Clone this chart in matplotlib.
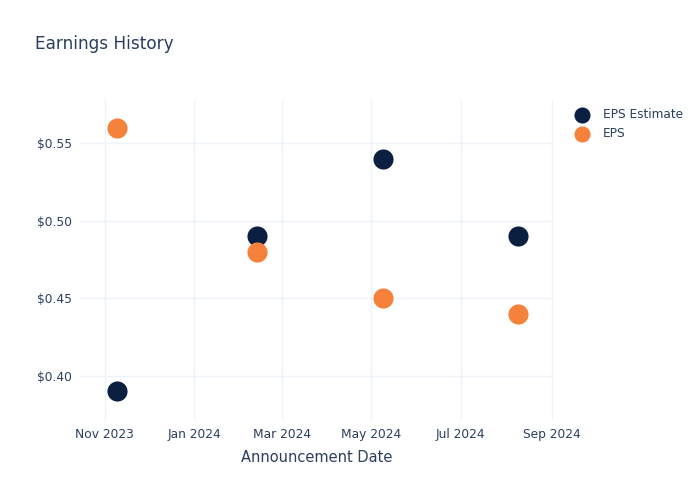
import matplotlib
matplotlib.use("Agg")
import matplotlib.pyplot as plt
import matplotlib.dates as mdates
import pandas as pd

# data
dates = pd.to_datetime(["2023-11-09", "2024-02-13", "2024-05-09", "2024-08-09"])
eps_estimate = [0.39, 0.49, 0.54, 0.49]
eps_actual = [0.56, 0.48, 0.45, 0.44]

text_color = "#2a3f5f"
grid_color = "#eef2f9"
navy = "#0b1f41"
orange = "#f5813a"

plt.rcParams["font.family"] = ["DejaVu Sans"]

fig = plt.figure(figsize=(7, 5), dpi=100)
ax = fig.add_axes([80 / 700, 80 / 500, 473 / 700, 320 / 500])

ax.scatter(dates, eps_estimate, s=210, color=navy, label="EPS Estimate", zorder=3, linewidths=0)
ax.scatter(dates, eps_actual, s=210, color=orange, label="EPS", zorder=3, linewidths=0)

ax.set_xlim(pd.Timestamp("2023-10-15"), pd.Timestamp("2024-09-02"))
ax.set_ylim(0.3714, 0.578)

ax.xaxis.set_major_locator(mdates.MonthLocator(bymonth=[1, 3, 5, 7, 9, 11]))
ax.xaxis.set_major_formatter(mdates.DateFormatter("%b %Y"))
ax.set_yticks([0.40, 0.45, 0.50, 0.55])
ax.set_yticklabels([f"${v:.2f}" for v in [0.40, 0.45, 0.50, 0.55]])

ax.grid(True, color=grid_color, linewidth=1)
ax.set_axisbelow(True)
for sp in ax.spines.values():
    sp.set_visible(False)
ax.tick_params(length=0, labelsize=8.8, colors=text_color, pad=6)

ax.set_xlabel("Announcement Date", fontsize=10.5, color=text_color, labelpad=6)

fig.text(35 / 700, 1 - 44 / 500, "Earnings History", fontsize=12.2, color=text_color,
         va="center", ha="left")

ax.legend(loc="upper left", bbox_to_anchor=(570 / 700, 1 - 108 / 500),
          bbox_transform=fig.transFigure, frameon=False, fontsize=8.7,
          labelcolor=text_color, markerscale=0.8, handletextpad=0.75,
          labelspacing=0.5, borderaxespad=0, borderpad=0)

fig.savefig("out.png", dpi=100, facecolor="white")
